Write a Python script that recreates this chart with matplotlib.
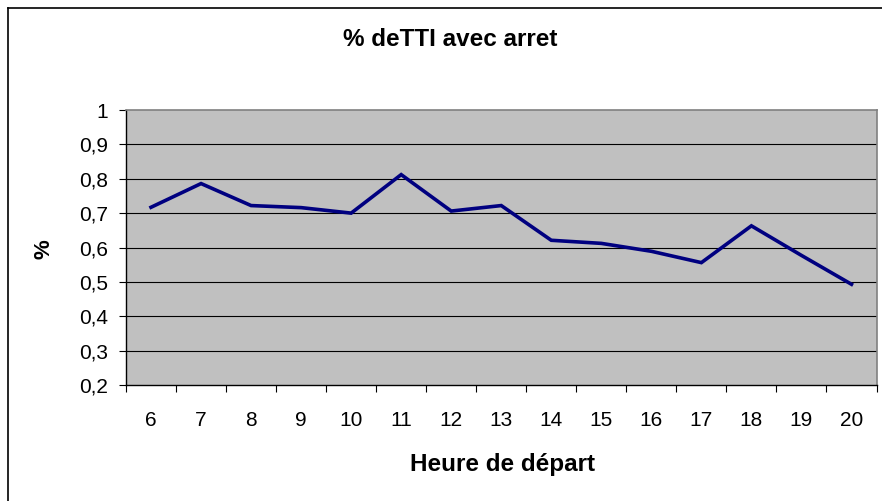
import matplotlib
matplotlib.use("Agg")
import matplotlib.pyplot as plt
from matplotlib.lines import Line2D

hours = ["6", "7", "8", "9", "10", "11", "12", "13", "14", "15", "16", "17", "18", "19", "20"]
values = [0.717, 0.786, 0.722, 0.716, 0.700, 0.812, 0.706, 0.722, 0.621, 0.612, 0.589, 0.556, 0.663, 0.577, 0.493]
yticks = [0.2, 0.3, 0.4, 0.5, 0.6, 0.7, 0.8, 0.9, 1.0]
ytick_labels = ["0,2", "0,3", "0,4", "0,5", "0,6", "0,7", "0,8", "0,9", "1"]

plt.rcParams['font.family'] = ['Liberation Sans', 'DejaVu Sans']

W, H = 882, 501
fig = plt.figure(figsize=(W / 100, H / 100), dpi=100)
fig.patch.set_facecolor('white')

# chart border (left & top visible)
fig.add_artist(Line2D([7.5 / W, 7.5 / W], [0, 1 - 7.5 / H], transform=fig.transFigure, color='black', lw=1.2))
fig.add_artist(Line2D([7.5 / W, 1], [1 - 7.5 / H, 1 - 7.5 / H], transform=fig.transFigure, color='black', lw=1.2))

L, R, T, B = 126, 876.5, 110, 385
ax = fig.add_axes([L / W, 1 - B / H, (R - L) / W, (B - T) / H])
ax.set_facecolor('#C0C0C0')

x = list(range(len(hours)))
ax.plot(x, values, color='#000080', lw=2.6, solid_joinstyle='miter', zorder=3)

ax.set_xlim(-0.5, len(hours) - 0.5)
ax.set_ylim(0.2, 1.0)
ax.set_yticks(yticks)
ax.set_yticklabels(ytick_labels, fontsize=15)
ax.set_xticks(x)
ax.set_xticklabels(hours, fontsize=15)
ax.set_xticks([i - 0.5 for i in range(len(hours) + 1)], minor=True)
ax.tick_params(axis='x', which='major', length=0, pad=19)
ax.tick_params(axis='x', which='minor', length=5, width=0.8, color='black', direction='out')
ax.tick_params(axis='y', length=5, width=0.8, color='black', direction='out', pad=8)

for yv in yticks[1:-1]:
    ax.axhline(yv, color='black', lw=0.8, zorder=1)

for s in ['top', 'right']:
    ax.spines[s].set_color('#808080')
    ax.spines[s].set_linewidth(1.2)
for s in ['left', 'bottom']:
    ax.spines[s].set_color('black')
    ax.spines[s].set_linewidth(1.0)

fig.text(450 / W, 1 - 40 / H, "% deTTI avec arret", ha='center', va='center', fontsize=17.5, fontweight='bold')
fig.text(502 / W, 1 - 465 / H, "Heure de départ", ha='center', va='center', fontsize=17.5, fontweight='bold')
fig.text(44 / W, 1 - 249 / H, "%", ha='center', va='center', fontsize=16, fontweight='bold', rotation=90)

fig.savefig("out.png", dpi=100)
